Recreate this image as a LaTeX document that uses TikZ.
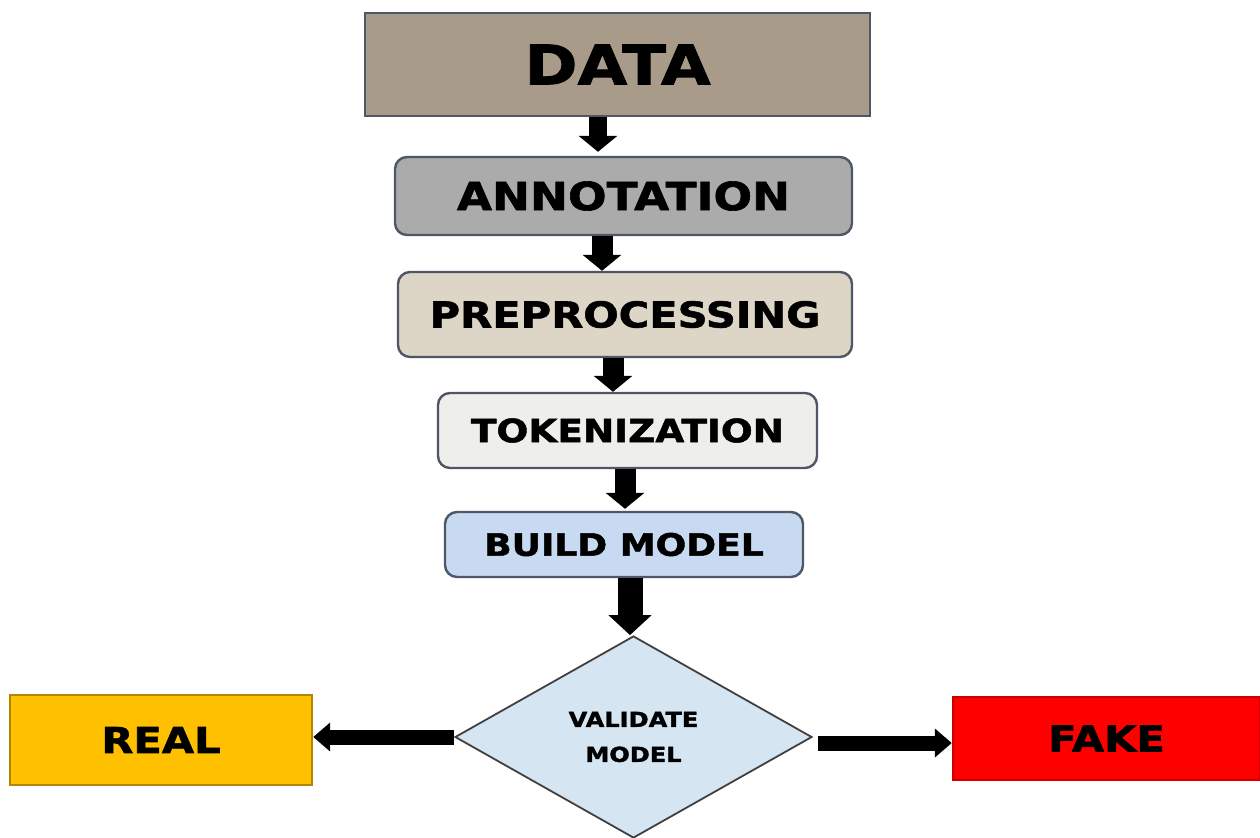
\documentclass[tikz,border=0pt]{standalone}
\usepackage{fontspec}
\newfontfamily\boxfont[FakeStretch=1.17,BoldFeatures={FakeBold=1.6}]{DejaVu Sans}
\usetikzlibrary{arrows.meta,shapes.geometric}

\definecolor{datafill}{HTML}{A99B8A}
\definecolor{annotfill}{HTML}{ABABAB}
\definecolor{prepfill}{HTML}{DDD5C6}
\definecolor{tokenfill}{HTML}{EEEEEB}
\definecolor{buildfill}{HTML}{C8DAF1}
\definecolor{validfill}{HTML}{D6E5F2}
\definecolor{realfill}{HTML}{FFC000}
\definecolor{fakefill}{HTML}{FF0000}
\definecolor{edgegray}{HTML}{4F5665}

\tikzset{
	stage/.style={draw=edgegray,line width=1.2pt,inner sep=0pt,font=\boxfont\bfseries},
	arr/.style={line width=#1,-{Triangle[width=19pt,length=8pt]}},
	sidearr/.style={line width=7.5pt,-{Triangle[width=14pt,length=8.5pt]}}
}

\begin{document}
\begin{tikzpicture}[x=0.5pt,y=-0.5pt]
	\useasboundingbox (0,0) rectangle (1260,837);

	\node[stage,fill=datafill,minimum width=252.5pt,minimum height=51.5pt,font=\boxfont\bfseries\fontsize{27.4}{30}\selectfont] (data) at (617.5,64.5) {DATA};
	\node[stage,fill=annotfill,rounded corners=6pt,minimum width=228.5pt,minimum height=39pt,font=\boxfont\bfseries\fontsize{19.4}{22}\selectfont] (annot) at (623.5,196) {ANNOTATION};
	\node[stage,fill=prepfill,rounded corners=6pt,minimum width=227pt,minimum height=42.5pt,font=\boxfont\bfseries\fontsize{17.8}{20}\selectfont] (prep) at (625,314.5) {PREPROCESSING};
	\node[stage,fill=tokenfill,rounded corners=6pt,minimum width=189.5pt,minimum height=37.5pt,font=\boxfont\bfseries\fontsize{16}{18}\selectfont] (token) at (627.5,430.5) {TOKENIZATION};
	\node[stage,fill=buildfill,rounded corners=6pt,minimum width=179pt,minimum height=32.5pt,font=\boxfont\bfseries\fontsize{15.4}{17}\selectfont] (build) at (624,544.5) {BUILD MODEL};
	\node[stage,draw=black!75,line width=0.9pt,fill=validfill,diamond,aspect=1.77,minimum width=178.5pt,minimum height=101pt,align=center,font=\boxfont\bfseries\fontsize{10.3}{17.5}\selectfont] (valid) at (633.5,737) {VALIDATE\\MODEL};
	\node[stage,draw=realfill!70!black,fill=realfill,minimum width=151pt,minimum height=45pt,font=\boxfont\bfseries\fontsize{17.8}{20}\selectfont] (real) at (161,740) {REAL};
	\node[stage,draw=fakefill!80!black,fill=fakefill,minimum width=153.5pt,minimum height=41.5pt,font=\boxfont\bfseries\fontsize{17.8}{20}\selectfont] (fake) at (1106.5,738.5) {FAKE};

	\draw[arr=9pt] ([xshift=-9.75pt]data.south) -- ([xshift=-12.75pt,yshift=2pt]annot.north);
	\draw[arr=10.5pt] ([xshift=-10.75pt]annot.south) -- ([xshift=-11.5pt]prep.north);
	\draw[arr=10.5pt] ([xshift=-6pt]prep.south) -- ([xshift=-7.25pt]token.north);
	\draw[arr=10.5pt] ([xshift=-1.25pt]token.south) -- ([xshift=0.5pt,yshift=1pt]build.north);
	\draw[line width=12.5pt,-{Triangle[width=21pt,length=10pt]}] ([xshift=3pt]build.south) -- ([xshift=-1.75pt]valid.north);
	\draw[sidearr] (valid.west) -- (valid.west -| real.east);
	\draw[sidearr,shorten <=2.5pt] ([yshift=-3pt]valid.east) -- ([yshift=-3pt]valid.east -| fake.west);
\end{tikzpicture}
\end{document}
